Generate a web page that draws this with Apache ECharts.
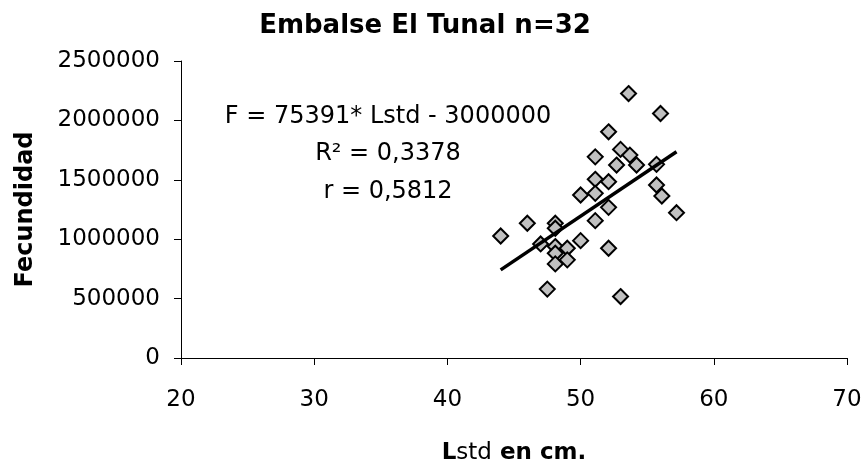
<!DOCTYPE html>
<html>
<head>
<meta charset="utf-8">
<script src="https://cdn.jsdelivr.net/npm/echarts@6/dist/echarts.min.js"></script>
<style>html,body{margin:0;padding:0;background:#fff}#c{width:866px;height:463px}</style>
</head>
<body>
<div id="c"></div>
<script>
const titleText = 'Embalse El Tunal n=32';
const xName = 'Lstd en cm.';
const yName = 'Fecundidad';
const xMin = 20, xMax = 70, xStep = 10;
const yMin = 0, yMax = 2500000, yStep = 500000;
// Lstd (cm) of each fish
const lstd = [44.0, 46.0, 47.0, 48.1, 48.1, 48.1, 48.1, 48.1, 47.5, 49.0, 49.0, 50.0, 50.0, 51.1, 51.1, 51.1,
              51.1, 52.1, 52.1, 52.1, 52.1, 52.7, 53.0, 53.0, 53.6, 53.7, 54.2, 55.7, 55.7, 56.1, 56.0, 57.2];
// Fecundity of each fish
const fecundidad = [1027000, 1134000, 960000, 1134000, 1092000, 938000, 882000, 792000, 580000, 924000, 826000,
                    988000, 1372000, 1693000, 1504000, 1386000, 1156000, 1904000, 1484000, 1268000, 924000,
                    1624000, 1756000, 517000, 2226000, 1708000, 1624000, 1630000, 1456000, 1363000, 2058000, 1223000];
// Trend line end points
const trendX = [44.0, 57.2];
const trendY = [742000, 1736000];
const annotation = ['F = 75391* Lstd - 3000000', 'R² = 0,3378', 'r = 0,5812'];

const points = lstd.map((x, i) => [x, fecundidad[i]]);
const trend = trendX.map((x, i) => [x, trendY[i]]);

const chart = echarts.init(document.getElementById('c'), null, {renderer: 'canvas'});
const FONT = 'DejaVu Sans';
const annY = [117, 154, 192];
chart.setOption({
  animation: false,
  backgroundColor: '#ffffff',
  title: {
    text: titleText, left: 420, top: 8, textAlign: 'center',
    textStyle: {fontFamily: FONT, fontWeight: 'bold', fontSize: 26, color: '#000'}
  },
  grid: {left: 181, right: 19, top: 61, bottom: 105, containLabel: false, outerBoundsMode: 'none'},
  xAxis: {
    type: 'value', min: xMin, max: xMax, interval: xStep,
    name: '{b|L}{n|std}{b| en cm.}', nameLocation: 'middle', nameGap: 84,
    nameTextStyle: {
      fontFamily: FONT, fontSize: 23, color: '#000',
      rich: {
        b: {fontFamily: FONT, fontWeight: 'bold', fontSize: 23, color: '#000'},
        n: {fontFamily: FONT, fontWeight: 'normal', fontSize: 23, color: '#000'}
      }
    },
    axisLine: {show: true, lineStyle: {color: '#000', width: 1}},
    axisTick: {show: true, inside: false, length: 7, lineStyle: {color: '#000'}},
    axisLabel: {fontFamily: FONT, fontSize: 23, color: '#000', margin: 31},
    splitLine: {show: false}
  },
  yAxis: {
    type: 'value', min: yMin, max: yMax, interval: yStep,
    name: yName, nameLocation: 'middle', nameGap: 143, nameRotate: 90,
    nameTextStyle: {fontFamily: FONT, fontWeight: 'bold', fontSize: 24, color: '#000'},
    axisLine: {show: true, lineStyle: {color: '#000', width: 1}},
    axisTick: {show: true, inside: false, length: 7, lineStyle: {color: '#000'}},
    axisLabel: {fontFamily: FONT, fontSize: 23, color: '#000', margin: 21, formatter: v => String(v)},
    splitLine: {show: false}
  },
  graphic: annotation.map((t, i) => ({
    type: 'text', x: 388, y: annY[i], z: 10,
    style: {text: t, font: '24px "DejaVu Sans"', fill: '#000', textAlign: 'center', textVerticalAlign: 'middle'}
  })),
  series: [
    {
      type: 'scatter', data: points, symbol: 'diamond', symbolSize: 15, z: 2,
      itemStyle: {color: '#c0c0c0', borderColor: '#000', borderWidth: 2, opacity: 1}
    },
    {
      type: 'line', data: trend, showSymbol: false, symbol: 'none', z: 3,
      lineStyle: {color: '#000', width: 3.5}
    }
  ]
});
</script>
</body>
</html>
